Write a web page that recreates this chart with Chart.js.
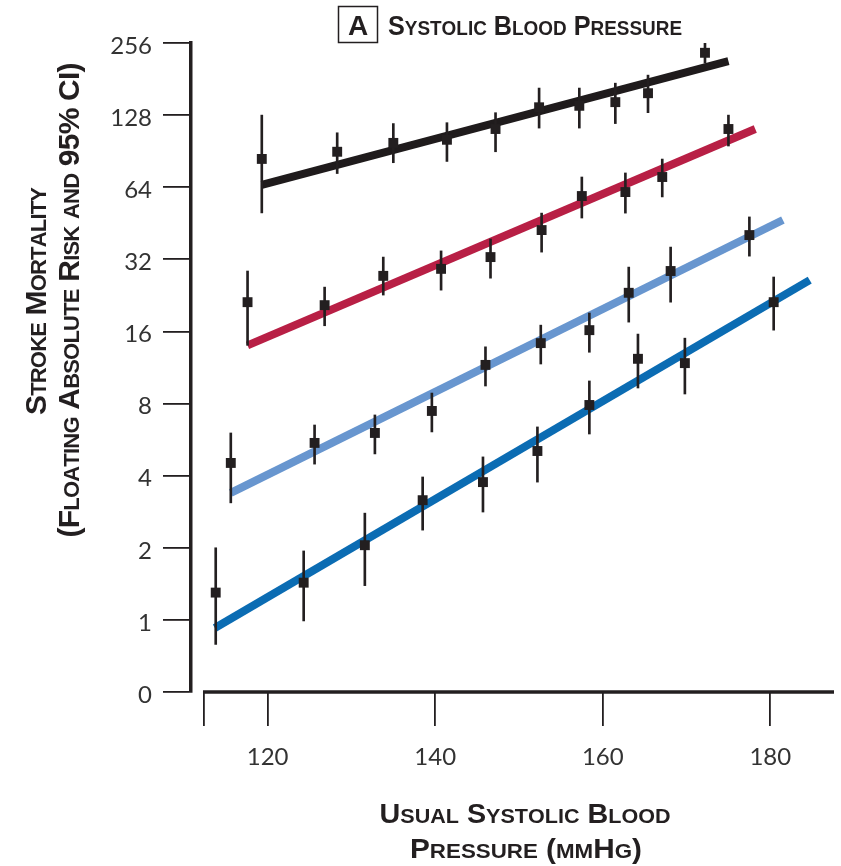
<!DOCTYPE html>
<html><head><meta charset="utf-8">
<script src="https://cdn.jsdelivr.net/npm/chart.js@4.4.1/dist/chart.umd.min.js"></script>
<style>html,body{margin:0;padding:0;background:#fff;}canvas{display:block;}</style>
</head><body>
<canvas id="c" width="841" height="866" style="width:841px;height:866px"></canvas>
<script>
// ---- Data ----
const xTickValues = [120, 140, 160, 180];
const xAxisStart = 112.4;
const yTickLabels = ['0', '1', '2', '4', '8', '16', '32', '64', '128', '256'];

const seriesNames = ['Age 80–89', 'Age 70–79', 'Age 60–69', 'Age 50–59'];
const seriesColors = ['#1f1b1c', '#b81f45', '#6896cf', '#0b6cb3'];

const blackX  = [119.3, 128.3, 135.0, 141.4, 147.2, 152.4, 157.2, 161.5, 165.4, 172.2];
const blackY  = [84, 90, 98, 101, 112, 138, 140, 145, 158, 233];
const blackLo = [50, 73, 81, 82, 90, 113, 113, 118, 131, 211];
const blackHi = [128, 108, 118, 119, 131, 166, 166, 174, 188, 269];
const blackFitX = [119.3, 175.0];
const blackFitY = [65.4, 215];

const redX  = [117.6, 126.8, 133.8, 140.7, 146.6, 152.7, 157.5, 162.7, 167.1, 175.0];
const redY  = [21.2, 20.6, 27.3, 29.2, 32.7, 42.4, 58.8, 61.1, 70.6, 112];
const redLo = [14.0, 16.9, 22.7, 23.8, 26.7, 34.3, 47.6, 49.9, 58.3, 95.1];
const redHi = [28.6, 24.5, 32.7, 34.7, 38.9, 49.9, 70.6, 73.4, 83.9, 128];
const redFitX = [117.6, 178.2];
const redFitY = [14.0, 112];

const lightX  = [115.6, 125.6, 132.8, 139.6, 146.0, 152.6, 158.4, 163.1, 168.1, 177.5];
const lightY  = [4.52, 5.48, 6.03, 7.45, 11.6, 14.3, 16.2, 23.2, 28.6, 40.4];
const lightLo = [3.08, 4.47, 4.93, 6.09, 9.47, 11.7, 13.1, 17.5, 21.2, 33.0];
const lightHi = [6.03, 6.51, 7.17, 8.85, 13.8, 17.0, 19.1, 29.7, 36.0, 48.1];
const lightFitX = [115.6, 181.5];
const lightFitY = [3.39, 46.7];

const darkX  = [113.8, 124.3, 131.6, 138.5, 145.7, 152.2, 158.4, 164.2, 169.8, 180.4];
const darkY  = [1.30, 1.43, 2.05, 3.16, 3.76, 5.07, 7.89, 12.3, 11.8, 21.2];
const darkLo = [0.79, 0.99, 1.39, 2.37, 2.82, 3.76, 5.97, 9.29, 8.77, 16.2];
const darkHi = [2.0, 1.94, 2.79, 3.95, 4.79, 6.39, 9.94, 15.6, 15.0, 27.0];
const darkFitX = [113.7, 184.7];
const darkFitY = [0.925, 26.2];

// ---- Build datasets ----
const L = v => Math.log2(v);
const INK = '#231f20';
const series = [
  {x: blackX, y: blackY, lo: blackLo, hi: blackHi, fx: blackFitX, fy: blackFitY},
  {x: redX, y: redY, lo: redLo, hi: redHi, fx: redFitX, fy: redFitY},
  {x: lightX, y: lightY, lo: lightLo, hi: lightHi, fx: lightFitX, fy: lightFitY},
  {x: darkX, y: darkY, lo: darkLo, hi: darkHi, fx: darkFitX, fy: darkFitY}
];
const datasets = [];
series.forEach((s, k) => {
  datasets.push({
    type: 'line', label: seriesNames[k] + ' fit',
    data: s.fx.map((v, i) => ({x: v, y: L(s.fy[i])})),
    borderColor: seriesColors[k], borderWidth: 8, pointRadius: 0,
    borderCapStyle: 'butt', fill: false, order: 2
  });
  datasets.push({
    type: 'bar', label: seriesNames[k] + ' 95% CI',
    data: s.x.map((v, i) => ({x: v, y: [L(s.lo[i]), L(s.hi[i])]})),
    backgroundColor: INK, borderWidth: 0, barThickness: 2, grouped: false, order: 1
  });
  datasets.push({
    type: 'scatter', label: seriesNames[k],
    data: s.x.map((v, i) => ({x: v, y: L(s.y[i])})),
    pointStyle: 'rect', pointRadius: 7, backgroundColor: INK, borderWidth: 0, order: 0
  });
});

// ---- Small caps text helper ----
function drawSC(ctx, text, o) {
  const chars = [];
  for (const ch of text) {
    const small = ch !== ch.toUpperCase();
    ctx.font = `${o.weight} ${small ? o.small : o.big}px ${o.family}`;
    const c = ch.toUpperCase();
    chars.push({c, f: ctx.font, w: ctx.measureText(c).width});
  }
  const nat = chars.reduce((a, b) => a + b.w, 0);
  let track = 0, sx = 1;
  if (o.mode === 'track') track = (o.target - nat) / (chars.length - 1);
  else sx = o.target / nat;
  const total = (nat + track * (chars.length - 1)) * sx;
  ctx.save();
  ctx.translate(o.x, o.y);
  if (o.rot) ctx.rotate(o.rot);
  ctx.scale(sx, 1);
  ctx.fillStyle = o.color || INK;
  ctx.textAlign = 'left';
  ctx.textBaseline = 'alphabetic';
  let x = (o.align === 'center' ? -total / 2 : 0) / sx;
  for (const ch of chars) { ctx.font = ch.f; ctx.fillText(ch.c, x, 0); x += ch.w + track; }
  ctx.restore();
}

const decor = {
  id: 'decor',
  beforeDatasetsDraw(chart) {
    const ctx = chart.ctx, xs = chart.scales.x, a = chart.chartArea;
    ctx.save();
    ctx.strokeStyle = INK; ctx.lineWidth = 3.5; ctx.lineCap = 'butt';
    ctx.beginPath();
    ctx.moveTo(xs.getPixelForValue(xAxisStart) - 1, a.bottom);
    ctx.lineTo(a.right, a.bottom);
    ctx.stroke();
    ctx.restore();
  },
  afterDraw(chart) {
    const ctx = chart.ctx;
    const fam = '"Liberation Sans", Arial, sans-serif';
    // panel letter box
    ctx.save();
    ctx.strokeStyle = INK; ctx.lineWidth = 1.5;
    ctx.strokeRect(338.5, 6.5, 39, 36);
    ctx.fillStyle = INK; ctx.font = `bold 28px ${fam}`;
    ctx.textAlign = 'center'; ctx.textBaseline = 'alphabetic';
    ctx.fillText('A', 358, 35);
    ctx.restore();
    drawSC(ctx, 'Systolic Blood Pressure', {x: 388, y: 35, align: 'left', big: 28, small: 21, family: fam, weight: 'bold', target: 294, mode: 'scale'});
    drawSC(ctx, 'Usual Systolic Blood', {x: 525, y: 823, align: 'center', big: 28, small: 21, family: fam, weight: 'bold', target: 291, mode: 'scale'});
    drawSC(ctx, 'Pressure (mmHg)', {x: 526, y: 858, align: 'center', big: 28, small: 21, family: fam, weight: 'bold', target: 232, mode: 'scale'});
    drawSC(ctx, 'Stroke Mortality', {x: 46, y: 301, rot: -Math.PI / 2, align: 'center', big: 30, small: 22, family: fam, weight: 'bold', target: 228, mode: 'track'});
    drawSC(ctx, '(Floating Absolute Risk and 95% CI)', {x: 79, y: 300, rot: -Math.PI / 2, align: 'center', big: 30, small: 22, family: fam, weight: 'bold', target: 475, mode: 'track'});
  }
};

new Chart(document.getElementById('c'), {
  type: 'scatter',
  data: {datasets},
  plugins: [decor],
  options: {
    responsive: false, animation: false, devicePixelRatio: 1,
    layout: {padding: {top: 43, right: 4, left: 0, bottom: 0}},
    plugins: {legend: {display: false}, tooltip: {enabled: false}},
    scales: {
      x: {
        type: 'linear', min: 110.85, max: 187.6, offset: false,
        afterBuildTicks: s => { s.ticks = [xAxisStart, ...xTickValues].map(v => ({value: v})); },
        afterFit: s => { s.height = 174; },
        grid: {offset: false, drawOnChartArea: false, drawTicks: true, tickLength: 34, lineWidth: 1.8, color: INK},
        border: {display: false},
        ticks: {autoSkip: false, maxRotation: 0, padding: 17, color: '#333',
          font: {family: 'Lato, "Open Sans", sans-serif', size: 24},
          callback: v => xTickValues.includes(v) ? String(v) : ''}
      },
      y: {
        type: 'linear', min: -1, max: 8,
        afterBuildTicks: s => { s.ticks = yTickLabels.map((_, i) => ({value: i - 1})); },
        afterFit: s => { s.width = 191; },
        grid: {offset: false, drawOnChartArea: false, drawTicks: true, tickLength: 28, lineWidth: 1.8, color: INK},
        border: {display: true, width: 3.5, color: INK},
        ticks: {padding: 11, color: '#333', labelOffset: 3,
          font: {family: 'Lato, "Open Sans", sans-serif', size: 24},
          callback: v => yTickLabels[Math.round(v) + 1]}
      }
    }
  }
});
</script>
</body></html>
